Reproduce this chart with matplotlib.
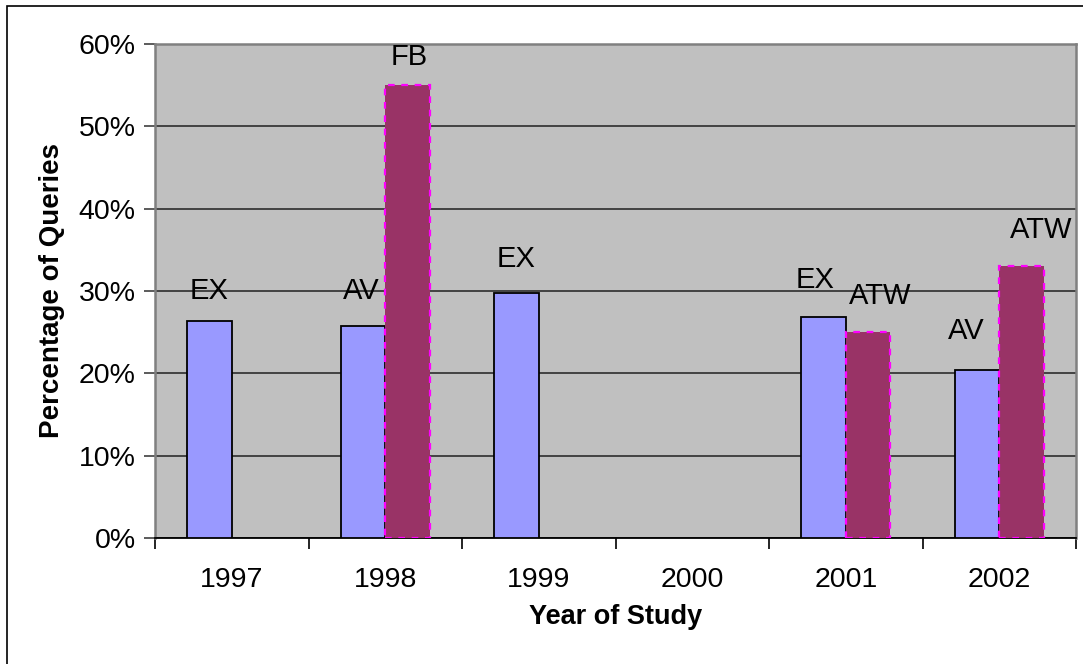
import numpy as np
import matplotlib.pyplot as plt
from matplotlib.patches import Rectangle

# Data (percent of queries)
years = ['1997', '1998', '1999', '2000', '2001', '2002']
first_vals = [26.3, 25.8, 29.8, np.nan, 26.9, 20.4]
first_names = ['EX', 'AV', 'EX', '', 'EX', 'AV']
second_vals = [np.nan, 55.0, np.nan, np.nan, 25.0, 33.0]
second_names = ['', 'FB', '', '', 'ATW', 'ATW']

# label nudges (points) for the bar captions
first_nudge = [(0, 12), (-1, 15), (0, 14), (0, 0), (-6, 16), (-8, 18)]
second_nudge = [(0, 0), (1, 10), (0, 0), (0, 0), (9, 16), (14, 16)]


def main():
    plt.rcParams['font.family'] = ['Liberation Sans', 'DejaVu Sans']
    fig = plt.figure(figsize=(10.83, 6.64), dpi=100)
    ax = fig.add_axes([155 / 1083, 1 - 538 / 664, 921 / 1083, 494 / 664])
    ax.set_facecolor('#C0C0C0')

    x = np.arange(len(years))
    w = 0.29
    ax.bar(x - w / 2, first_vals, w, color='#9999FF', edgecolor='black',
           linewidth=1.3, zorder=3)
    ax.bar(x + w / 2, second_vals, w, color='#993366', edgecolor='#FF00FF',
           linewidth=1.6, linestyle=(0, (3, 3)), zorder=3)

    for i in range(len(years)):
        if not np.isnan(first_vals[i]):
            ax.annotate(first_names[i], (x[i] - w / 2, first_vals[i]),
                        xytext=first_nudge[i], textcoords='offset points',
                        ha='center', va='bottom', fontsize=21)
        if not np.isnan(second_vals[i]):
            ax.annotate(second_names[i], (x[i] + w / 2, second_vals[i]),
                        xytext=second_nudge[i], textcoords='offset points',
                        ha='center', va='bottom', fontsize=21)

    ax.set_xlim(-0.5, len(years) - 0.5)
    ax.set_ylim(0, 60)
    ax.set_yticks(np.arange(0, 61, 10))
    ax.set_yticklabels([f'{v}%' for v in range(0, 61, 10)], fontsize=20.5)
    ax.set_xticks(x)
    ax.set_xticklabels(years, fontsize=20.5)
    ax.set_xticks(np.arange(-0.5, len(years), 1), minor=True)
    ax.tick_params(axis='x', which='major', length=0, pad=21)
    ax.tick_params(axis='x', which='minor', length=8, width=1.2, color='black')
    ax.tick_params(axis='y', length=8, width=1.2, color='#404040', pad=6)
    ax.grid(axis='y', color='#202020', linewidth=1.1, zorder=1)
    ax.set_axisbelow(True)

    for s in ['top', 'right', 'left']:
        ax.spines[s].set_color('#808080')
        ax.spines[s].set_linewidth(1.8)
    ax.spines['bottom'].set_color('black')
    ax.spines['bottom'].set_linewidth(1.3)

    ax.set_xlabel('Year of Study', fontsize=19.5, fontweight='bold', labelpad=8)
    ax.set_ylabel('Percentage of Queries', fontsize=20, fontweight='bold', labelpad=10)

    # outer chart border
    fig.patches.append(Rectangle((7 / 1083, -0.01), 1.0, 1 - 6 / 664 + 0.01,
                                 transform=fig.transFigure, fill=False,
                                 edgecolor='black', linewidth=1.2))

    fig.savefig('out.png', dpi=100)


if __name__ == "__main__":
    main()
